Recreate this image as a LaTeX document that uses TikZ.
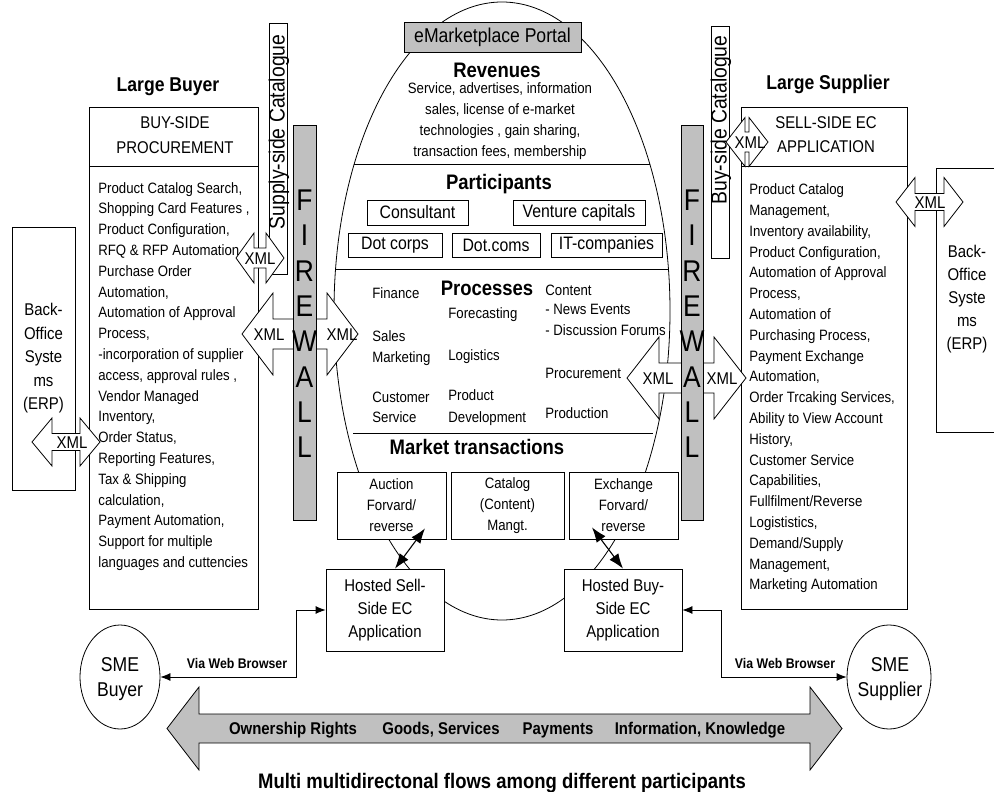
\documentclass[tikz,border=0pt]{standalone}
\usepackage{fontspec}
\setmainfont[FakeStretch=0.88]{Liberation Sans}
\usetikzlibrary{shapes.geometric,arrows.meta,calc}
\definecolor{fwgray}{HTML}{C0C0C0}
\newcommand\fsz[2]{\fontsize{#1}{#2}\selectfont}
% double-headed block arrow: [style] cx cy halflength headhalfheight shafthalfheight headlength
\newcommand\dblarrow[7][xmlarr]{%
  \path[#1] ({#2-#4},#3) -- ({#2-#4+#7},{#3-#5}) -- ({#2-#4+#7},{#3-#6}) -- ({#2+#4-#7},{#3-#6}) -- ({#2+#4-#7},{#3-#5}) -- ({#2+#4},#3) -- ({#2+#4-#7},{#3+#5}) -- ({#2+#4-#7},{#3+#6}) -- ({#2-#4+#7},{#3+#6}) -- ({#2-#4+#7},{#3+#5}) -- cycle;}
\begin{document}
\begin{tikzpicture}[x=1pt,y=-1pt,line width=0.8pt,
  every node/.style={inner sep=0pt},
  box/.style={draw, fill=white, rectangle},
  txt/.style={font=\fsz{15}{20.8}, align=left},
  ctxt/.style={font=\fsz{15}{21}, align=center},
  ptxt/.style={font=\fsz{15}{18}, anchor=west, text height=10pt, text depth=0pt},
  hd/.style={font=\bfseries\fsz{21}{24}, text height=15pt, text depth=0pt},
  pbox/.style={draw, fill=white, minimum height=25pt, font=\fsz{18}{20}},
  xmlarr/.style={draw, fill=white, line join=miter},
  bigarr/.style={draw, fill=fwgray, line join=miter},
  xmllbl/.style={font=\fsz{17}{20}, text height=12pt, text depth=0pt},
  fw/.style={draw, fill=fwgray},
  fwl/.style={font=\fsz{30}{30}, text height=21pt, text depth=0pt},
  blbl/.style={font=\bfseries\fsz{17}{20}, text height=12pt, text depth=0pt},
  conn/.style={{Latex[length=10pt,width=8pt]}-{Latex[length=10pt,width=8pt]}},
  cross/.style={line width=1.1pt, {Latex[length=15pt,width=11pt]}-{Latex[length=15pt,width=11pt]}}]
\useasboundingbox (0,0) rectangle (994,792);

% ---------------- central eMarketplace ellipse ----------------
\draw[fill=white] (502,311) ellipse [x radius=168pt, y radius=309pt];
\begin{scope}
  \clip (502,311) ellipse [x radius=168pt, y radius=309pt];
  \draw (300,164) -- (700,164);
  \draw (300,269) -- (700,269);
\end{scope}
\draw (353,433) -- (653,433);

\node[box, fill=fwgray, minimum width=177pt, minimum height=30pt, font=\fsz{20}{22}] (portal) at (492.5,37) {eMarketplace Portal};

\node[hd] (rev) at (497,70) {Revenues};
\node[ctxt] (revtxt) at (500,121.5) {Service, advertises, information\\sales, license of e-market\\technologies , gain sharing,\\transaction fees, membership};

\node[hd] (part) at (499,182) {Participants};
\node[pbox, minimum width=101pt] (cons) at (417.5,212.5) {Consultant};
\node[pbox, minimum width=132pt] (vent) at (579,212.5) {Venture capitals};
\node[pbox, minimum width=94pt, minimum height=24pt] (dcorp) at (395,245) {Dot corps};
\node[pbox, minimum width=88pt, minimum height=24pt] (dcom) at (496,245) {Dot.coms};
\node[pbox, minimum width=111pt, minimum height=24pt] (itc) at (606.5,245) {IT-companies};

\node[hd] (proc) at (487,288) {Processes};
\node[ptxt] (p1) at (372,293) {Finance};
\node[ptxt] (p2) at (372,336) {Sales};
\node[ptxt] (p3) at (372,357) {Marketing};
\node[ptxt] (p4) at (372,397) {Customer};
\node[ptxt] (p5) at (372,417) {Service};
\node[ptxt] (p6) at (448,313) {Forecasting};
\node[ptxt] (p7) at (448,355) {Logistics};
\node[ptxt] (p8) at (448,395) {Product};
\node[ptxt] (p9) at (448,417) {Development};
\node[ptxt] (p10) at (545,290) {Content};
\node[ptxt] (p11) at (545,309) {- News Events};
\node[ptxt] (p12) at (545,330) {- Discussion Forums};
\node[ptxt] (p13) at (545,373) {Procurement};
\node[ptxt] (p14) at (545,413) {Production};

\node[hd] (mt) at (477,447) {Market transactions};
\node[box, ctxt, minimum width=109pt, minimum height=67pt] (auction) at (391.5,505.5) {Auction\\Forvard/\\reverse};
\node[box, ctxt, minimum width=113pt, minimum height=67pt] (catalog) at (507.5,505.5) {Catalog\\(Content)\\Mangt.};
\node[box, ctxt, minimum width=109pt, minimum height=67pt] (exchange) at (623.5,505.5) {Exchange\\Forvard/\\reverse};

\node[box, align=center, font=\fsz{17}{23}, minimum width=118pt, minimum height=82pt] (hsell) at (385,610) {Hosted Sell-\\Side EC\\Application};
\node[box, align=center, font=\fsz{17}{23}, minimum width=118pt, minimum height=82pt] (hbuy) at (623,610) {Hosted Buy-\\Side EC\\Application};

\draw[cross] ($(hsell.north)+(10,0)$) -- ($(auction.south)+(33.5,-11)$);
\draw[cross] (hbuy.north) -- ($(exchange.south)+(-31.5,-12)$);

% ---------------- Large buyer ----------------
\node[hd, font=\bfseries\fsz{20}{22}] (lbuyer) at (168,84) {Large Buyer};
\node[box, anchor=north west, minimum width=169pt, minimum height=502pt] (buy) at (89,107) {};
\draw ($(buy.north west)+(0,59)$) -- ($(buy.north east)+(0,59)$);
\node[font=\fsz{17}{25}, align=center] (buyt) at (175,135.5) {BUY-SIDE\\PROCUREMENT};
\node[txt, anchor=west] (buyl) at (98,376.5) {Product Catalog Search,\\Shopping Card Features ,\\Product Configuration,\\RFQ \& RFP Automation\\Purchase Order\\Automation,\\Automation of Approval\\Process,\\-incorporation of supplier\\access, approval rules ,\\Vendor Managed\\Inventory,\\Order Status,\\Reporting Features,\\Tax \& Shipping\\calculation,\\Payment Automation,\\Support for multiple\\languages and cuttencies};

\node[box, minimum width=18pt, minimum height=251pt] (supcat) at (278,148.5) {};
\node[rotate=90, font=\fsz{22}{24}] (supcatt) at (279,132) {Supply-side Catalogue};

\node[box, align=center, font=\fsz{17}{23.5}, minimum width=63pt, minimum height=263pt] (bol) at (43.5,358.5) {Back-\\Office\\Syste\\ms\\(ERP)};

% ---------------- Large supplier ----------------
\node[hd, font=\bfseries\fsz{20}{22}] (lsupp) at (828,82) {Large Supplier};
\node[box, anchor=north west, minimum width=166pt, minimum height=502pt] (sell) at (741,107) {};
\draw ($(sell.north west)+(0,59)$) -- ($(sell.north east)+(0,59)$);
\node[font=\fsz{17}{24}, align=center] (sellt) at (826,135) {SELL-SIDE EC\\APPLICATION};
\node[txt, anchor=west] (selll) at (749,388.5) {Product Catalog\\Management,\\Inventory availability,\\Product Configuration,\\Automation of Approval\\Process,\\Automation of\\Purchasing Process,\\Payment Exchange\\Automation,\\Order Trcaking Services,\\Ability to View Account\\History,\\Customer Service\\Capabilities,\\Fullfilment/Reverse\\Logististics,\\Demand/Supply\\Management,\\Marketing Automation};

\node[box, minimum width=18pt, minimum height=232pt] (buycat) at (720,142) {};
\node[rotate=90, font=\fsz{22}{24}] (buycatt) at (721,120) {Buy-side Catalogue};

\draw[fill=white] (994,168) -- (936,168) -- (936,432) -- (994,432);
\node[align=center, font=\fsz{17}{23}] (bor) at (967,299) {Back-\\Office\\Syste\\ms\\(ERP)};

% ---------------- XML arrows ----------------
\dblarrow{260}{258}{24}{25}{10}{18}
\dblarrow{300}{334}{58}{41}{15}{31}
\dblarrow{686.5}{378}{59.5}{41}{15}{32}
\dblarrow{66}{442}{34}{24}{8.5}{20}
\dblarrow{747}{142}{21}{24.5}{10}{19}
\dblarrow{929.5}{202}{33.5}{24.5}{8.5}{19}

% ---------------- firewalls ----------------
\node[fw, minimum width=23pt, minimum height=395pt] (fwL) at (304.5,322.5) {};
\node[fw, minimum width=22pt, minimum height=395pt] (fwR) at (692,322.5) {};
\foreach \L [count=\i from 0] in {F,I,R,E,W,A,L,L} {
  \node[fwl] (fwla\i) at (304.5,{200+35.3*\i}) {\L};
  \node[fwl] (fwlb\i) at (692,{200+35.3*\i}) {\L};
}

\node[xmllbl] (x1) at (260,258) {XML};
\node[xmllbl] (x2a) at (269,334) {XML};
\node[xmllbl] (x2b) at (342,334) {XML};
\node[xmllbl] (x3a) at (658,378) {XML};
\node[xmllbl] (x3b) at (722,378) {XML};
\node[xmllbl] (x4) at (72,442) {XML};
\node[xmllbl] (x5) at (750,142) {XML};
\node[xmllbl] (x6) at (930,202) {XML};

% ---------------- SMEs ----------------
\node[ellipse, draw, fill=white, minimum width=80pt, minimum height=104pt] (smeb) at (120,677) {};
\node[align=center, font=\fsz{20}{25}] (smebt) at (120,679.5) {SME\\Buyer};
\node[ellipse, draw, fill=white, minimum width=84pt, minimum height=104pt] (smes) at (889,677) {};
\node[align=center, font=\fsz{20}{25}] (smest) at (890,679.5) {SME\\Supplier};

\draw[conn] (smeb.east) -- ++(136,0) |- (hsell.west);
\draw[conn] (smes.west) -- ++(-125,0) |- (hbuy.east);
\node[font=\bfseries\fsz{14}{16}, text height=10pt, text depth=0pt] (vwb1) at (237,663) {Via Web Browser};
\node[font=\bfseries\fsz{14}{16}, text height=10pt, text depth=0pt] (vwb2) at (785,663) {Via Web Browser};

% ---------------- bottom flows ----------------
\dblarrow[bigarr]{504.5}{728.5}{337.5}{41.5}{14.5}{32}
\node[blbl] (f1) at (293,728.5) {Ownership Rights};
\node[blbl] (f2) at (441,728.5) {Goods, Services};
\node[blbl] (f3) at (558,728.5) {Payments};
\node[blbl] (f4) at (700,728.5) {Information, Knowledge};
\node[font=\bfseries\fsz{21}{24}, text height=14pt, text depth=0pt] (title) at (502,781) {Multi multidirectonal flows among different participants};
\end{tikzpicture}
\end{document}
